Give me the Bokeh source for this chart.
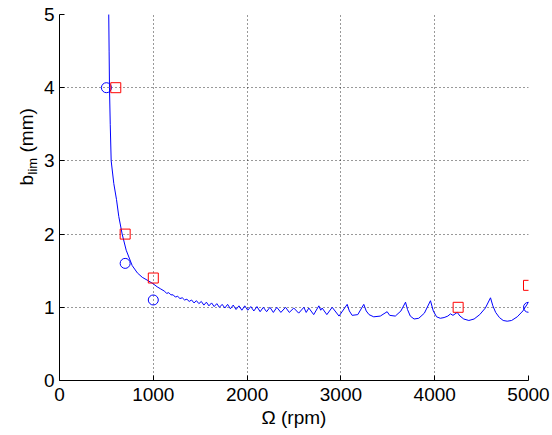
import math
from bokeh.plotting import figure
from bokeh.layouts import row
from bokeh.models import Range1d, FixedTicker, Label
from bokeh.embed import file_html
from bokeh.resources import INLINE

# Predicted stability boundary (spindle speed in rpm, limiting depth in mm)
omega_rpm = [524, 525, 529, 533, 541, 551, 579, 608, 632, 668, 711, 775, 830, 882, 950,
             1000, 1041, 1080, 1120, 1142, 1165, 1188, 1212, 1235, 1260, 1284, 1309, 1333,
             1358, 1383, 1408, 1434, 1460, 1486, 1512, 1539, 1566, 1593, 1621, 1649, 1677,
             1705, 1734, 1763, 1792, 1822, 1852, 1882, 1913, 1944, 1975, 2007, 2039, 2072,
             2105, 2139, 2173, 2208, 2243, 2280, 2317, 2360, 2410, 2450, 2498, 2550, 2605,
             2630, 2658, 2710, 2765, 2785, 2800, 2850, 2907, 2980, 3067, 3090, 3120, 3180,
             3244, 3270, 3300, 3350, 3420, 3493, 3520, 3580, 3640, 3689, 3710, 3740, 3780,
             3830, 3890, 3955, 3985, 4020, 4060, 4100, 4140, 4168, 4195, 4240, 4270, 4310,
             4364, 4420, 4480, 4540, 4595, 4620, 4650, 4690, 4730, 4773, 4820, 4880, 4940,
             5000]
b_lim_mm = [5.2, 5.0, 4.5, 4.0, 3.5, 3.0, 2.69, 2.47, 2.24, 2.0, 1.78, 1.57, 1.47, 1.41, 1.36,
            1.32, 1.28, 1.25, 1.22, 1.19, 1.20, 1.17, 1.17, 1.14, 1.15, 1.12, 1.13, 1.10,
            1.11, 1.08, 1.10, 1.06, 1.09, 1.05, 1.08, 1.03, 1.07, 1.02, 1.06, 1.01, 1.05,
            1.00, 1.04, 0.99, 1.04, 0.98, 1.03, 0.97, 1.02, 0.96, 1.02, 0.96, 1.01, 0.95,
            1.01, 0.94, 1.00, 0.94, 1.00, 0.93, 1.00, 0.93, 1.00, 0.93, 0.99, 0.92, 1.00,
            0.93, 0.99, 0.90, 1.02, 0.96, 0.99, 0.90, 1.00, 0.88, 1.04, 0.95, 0.89, 0.90,
            1.04, 0.95, 0.90, 0.87, 0.88, 0.94, 0.89, 0.88, 0.95, 1.07, 0.97, 0.88, 0.84,
            0.85, 0.92, 1.09, 0.95, 0.87, 0.85, 0.86, 0.88, 0.91, 0.89, 0.93, 0.88, 0.84,
            0.82, 0.84, 0.90, 0.99, 1.13, 1.02, 0.93, 0.86, 0.82, 0.81, 0.82, 0.87, 0.95,
            1.07]
assert len(omega_rpm) == len(b_lim_mm)

# Test points
circle_rpm = [500, 700, 1000, 5000]
circle_b = [4.0, 1.6, 1.1, 1.0]
square_rpm = [600, 700, 1000, 4250, 5000]
square_b = [4.0, 2.0, 1.4, 1.0, 1.3]

x_ticks = [0, 1000, 2000, 3000, 4000, 5000]
y_ticks = [0, 1, 2, 3, 4, 5]

FONT = "Liberation Sans"
H = 435
LW = 39          # width of the strip holding the y-axis title
MW = 552 - LW    # width of the main plot

# ---- strip with the y-axis title (b_lim (mm)) ----
lab = figure(width=LW, height=H, output_backend="svg", toolbar_location=None,
             x_axis_location=None, y_axis_location=None,
             min_border_left=0, min_border_right=0, min_border_top=0, min_border_bottom=0)
lab.outline_line_color = None
lab.xgrid.visible = False
lab.ygrid.visible = False
lab.background_fill_color = "white"
lab.border_fill_color = "white"
lab.add_layout(Label(x=26, y=195, x_units="screen", y_units="screen", text="b",
                     angle=math.pi / 2, text_align="left", text_baseline="middle",
                     text_font=FONT, text_font_size="19px", text_color="black"))
lab.add_layout(Label(x=32, y=206, x_units="screen", y_units="screen", text="lim",
                     angle=math.pi / 2, text_align="left", text_baseline="middle",
                     text_font=FONT, text_font_size="13px", text_color="black"))
lab.add_layout(Label(x=26, y=228, x_units="screen", y_units="screen", text="(mm)",
                     angle=math.pi / 2, text_align="left", text_baseline="middle",
                     text_font=FONT, text_font_size="19px", text_color="black"))

# ---- main plot ----
p = figure(width=MW, height=H, output_backend="svg", toolbar_location=None,
           x_range=Range1d(0, 5000), y_range=Range1d(0, 5),
           min_border_left=59 - LW, min_border_right=24, min_border_top=14, min_border_bottom=55)
p.outline_line_color = None
p.background_fill_color = "white"
p.border_fill_color = "white"

p.line(omega_rpm, b_lim_mm, line_color="#0000ff", line_width=1)
p.scatter(circle_rpm, circle_b, marker="circle", size=10, fill_color=None,
          line_color="#0000ff", line_width=1)
p.scatter(square_rpm, square_b, marker="square", size=10, fill_color=None,
          line_color="#ff0000", line_width=1)

for ax in (p.xaxis, p.yaxis):
    ax.major_tick_in = 5
    ax.major_tick_out = 0
    ax.minor_tick_line_color = None
    ax.axis_line_color = "black"
    ax.major_tick_line_color = "black"
    ax.major_label_text_font = FONT
    ax.major_label_text_font_size = "19px"
    ax.major_label_text_color = "black"

p.xaxis.ticker = FixedTicker(ticks=x_ticks)
p.yaxis.ticker = FixedTicker(ticks=y_ticks)
p.xaxis.major_label_standoff = 7
p.yaxis.major_label_standoff = 5

p.xaxis.axis_label = "Ω (rpm)"
p.xaxis.axis_label_text_font = FONT
p.xaxis.axis_label_text_font_size = "19px"
p.xaxis.axis_label_text_font_style = "normal"
p.xaxis.axis_label_text_color = "black"
p.xaxis.axis_label_standoff = 3

for g in (p.xgrid, p.ygrid):
    g.grid_line_color = "black"
    g.grid_line_dash = "1 3"
    g.grid_line_width = 1
    g.grid_line_alpha = 0.8

layout = row(lab, p, spacing=0)
open("out.html", "w").write(file_html(layout, INLINE))
